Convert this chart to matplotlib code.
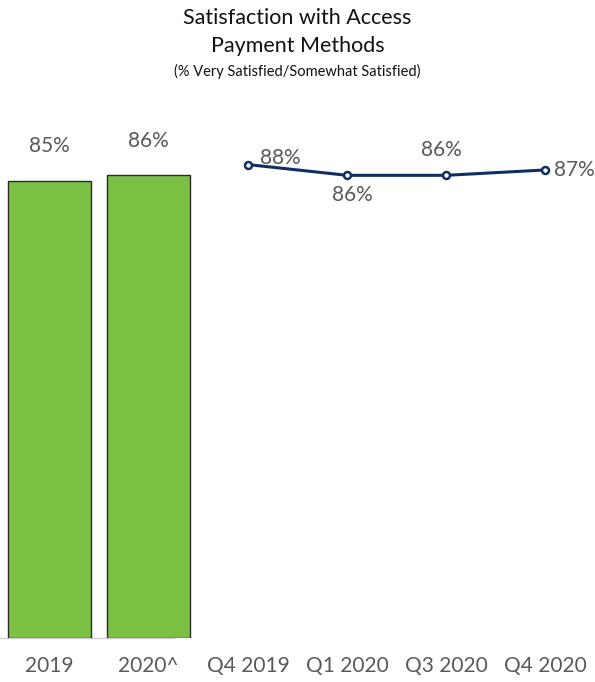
import matplotlib
matplotlib.use("Agg")
import matplotlib.pyplot as plt

categories = ["2019", "2020^", "Q4 2019", "Q1 2020", "Q3 2020", "Q4 2020"]
annual_values = [85, 86]
quarterly_values = [88, 86, 86, 87]

plt.rcParams['font.family'] = ['Lato', 'DejaVu Sans']

GREEN = "#7AC143"
NAVY = "#0F2F64"
GRAY = "#595959"

fig = plt.figure(figsize=(5.95, 6.82), dpi=100)
ax = fig.add_axes([0.0, 1 - 638 / 682, 1.0, (638 - 100) / 682])

x_annual = list(range(len(annual_values)))
x_quarter = list(range(len(annual_values), len(categories)))

ax.bar(x_annual, annual_values, width=0.84, color=GREEN,
       edgecolor="#2A2A2A", linewidth=1.0, zorder=2)
for xi, v in zip(x_annual, annual_values):
    ax.annotate(f"{v}%", (xi, v), xytext=(0, 25), textcoords="offset points",
                ha="center", va="center", fontsize=15, color=GRAY)

ax.plot(x_quarter, quarterly_values, color=NAVY, linewidth=2.2,
        marker="o", markersize=5, markerfacecolor="white",
        markeredgecolor=NAVY, markeredgewidth=1.8, zorder=3)

label_offsets = [(23, 4.5, "center", "center"),
                 (3.5, -14.5, "center", "center"),
                 (-3.5, 18, "center", "center"),
                 (6.5, 0, "left", "center")]
for xi, v, (dx, dy, ha, va) in zip(x_quarter, quarterly_values, label_offsets):
    ax.annotate(f"{v}%", (xi, v), xytext=(dx, dy), textcoords="offset points",
                ha=ha, va=va, fontsize=15, color=GRAY)

# baseline under the annual bars only
ax.plot([-0.5, 1.25], [0, 0], color="#D0D0D0", linewidth=1.0, zorder=1,
        clip_on=False)

ax.set_xlim(-0.5, len(categories) - 0.5)
ax.set_ylim(0, 100)
ax.set_xticks(range(len(categories)))
ax.set_xticklabels(categories, fontsize=15, color=GRAY)
ax.tick_params(axis="x", length=0, pad=13)
ax.set_yticks([])
for s in ax.spines.values():
    s.set_visible(False)

fig.text(0.5, 1 - 18 / 682, "Satisfaction with Access", ha="center",
         va="center", fontsize=15.5, color="#111111")
fig.text(0.5, 1 - 46 / 682, "Payment Methods", ha="center",
         va="center", fontsize=15.5, color="#111111")
fig.text(0.5, 1 - 71 / 682, "(% Very Satisfied/Somewhat Satisfied)",
         ha="center", va="center", fontsize=10.5, color="#111111")

fig.savefig("out.png", dpi=100)
